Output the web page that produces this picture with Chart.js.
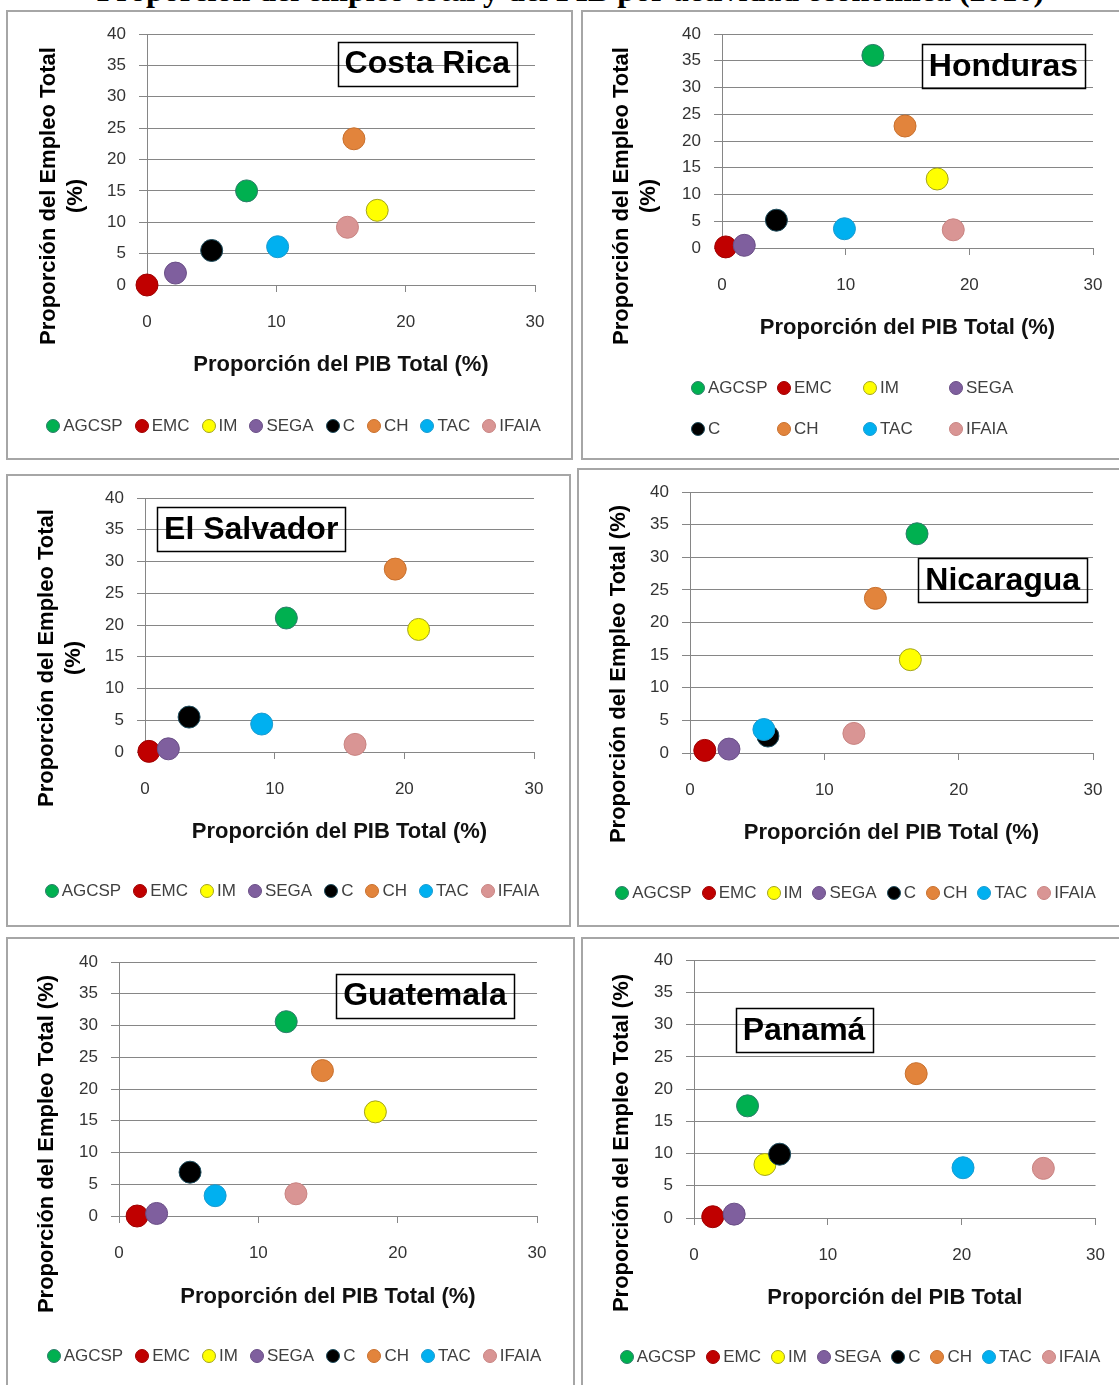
<!DOCTYPE html>
<html lang="es">
<head>
<meta charset="utf-8">
<title>Proporción del empleo total y del PIB por actividad económica (2010)</title>
<script src="https://cdn.jsdelivr.net/npm/chart.js@4.4.1/dist/chart.umd.min.js"></script>
<style>
  html, body { margin: 0; padding: 0; background: #fff; }
  body { width: 1119px; height: 1385px; position: relative; overflow: hidden; font-family: "Liberation Sans", Arial, sans-serif; }
  .title { position: absolute; left: 0; width: 1141px; top: -26px; text-align: center; font: bold 32px/32px "Liberation Serif", "Times New Roman", serif; white-space: nowrap; }
  .panel { position: absolute; box-sizing: border-box; border: 2px solid #a6a6a6; }
  canvas { position: absolute; }
  .legend { position: absolute; display: flex; justify-content: center; align-items: center; font-size: 17px; line-height: 20px; color: #404040; white-space: nowrap; }
  .legend .item { display: flex; align-items: center; }
  .legend .dot { width: 14px; height: 14px; border-radius: 50%; box-sizing: border-box; border: 1px solid; margin-right: 3px; }
</style>
</head>
<body>
<div class="title">Proporción del empleo total y del PIB por actividad económica (2010)</div>
<script>
// sectores (misma serie y color en los seis paneles)
const sectors = ['AGCSP', 'EMC', 'IM', 'SEGA', 'C', 'CH', 'TAC', 'IFAIA'];
const sectorColors = ['#00b050', '#c00000', '#ffff00', '#7f5f9e', '#000000', '#e2843c', '#00b0f0', '#d99594'];
const sectorBorders = ['#2e7d6b', '#a00000', '#a3a31f', '#6a4f86', '#1f4e5f', '#c8702e', '#1a9bd0', '#c88482'];

const xTickValues = [0, 10, 20, 30];
const yTickValues = [0, 5, 10, 15, 20, 25, 30, 35, 40];

// x = proporción del PIB total (%), y = proporción del empleo total (%)
const pibCostaRica     = [7.7, 0.0, 17.8, 2.2, 5.0, 16.0, 10.1, 15.5];
const empleoCostaRica  = [15.0, 0.0, 11.9, 1.9, 5.5, 23.3, 6.1, 9.2];
const pibHonduras      = [12.2, 0.3, 17.4, 1.8, 4.4, 14.8, 9.9, 18.7];
const empleoHonduras   = [36.0, 0.2, 12.9, 0.5, 5.2, 22.8, 3.6, 3.4];
const pibElSalvador    = [10.9, 0.3, 21.1, 1.8, 3.4, 19.3, 9.0, 16.2];
const empleoElSalvador = [21.1, 0.1, 19.3, 0.5, 5.5, 28.8, 4.4, 1.2];
const pibNicaragua     = [16.9, 1.1, 16.4, 2.9, 5.8, 13.8, 5.5, 12.2];
const empleoNicaragua  = [33.6, 0.4, 14.3, 0.6, 2.6, 23.7, 3.6, 3.0];
const pibGuatemala     = [12.0, 1.3, 18.4, 2.7, 5.1, 14.6, 6.9, 12.7];
const empleoGuatemala  = [30.6, 0.0, 16.4, 0.4, 6.9, 22.9, 3.2, 3.5];
const pibPanama        = [4.0, 1.4, 5.3, 3.0, 6.4, 16.6, 20.1, 26.1];
const empleoPanama     = [17.4, 0.2, 8.3, 0.6, 9.9, 22.4, 7.8, 7.7];

const FONT = '"Liberation Sans", Arial, sans-serif';
const X_TITLE = 'Proporción del PIB Total (%)';
const Y_TITLE_2L = ['Proporción del Empleo Total', '(%)'];
const Y_TITLE_1L = ['Proporción del Empleo Total (%)'];

// page layout of each panel (box / plot area in page px)
const panels = [
  { name: 'Costa Rica', pib: pibCostaRica, empleo: empleoCostaRica,
    box: [6, 10, 573, 460], area: [147, 34, 535, 285], xTitle: X_TITLE, xTitleY: 365,
    yTitle: Y_TITLE_2L, yTitleX: 49, yTitleY: 196, labelAt: [21.67, 35.28],
    legend: { y: 426, cx: 293.5, gap: 12 } },
  { name: 'Honduras', pib: pibHonduras, empleo: empleoHonduras,
    box: [581, 10, 1125, 460], area: [722, 34, 1093, 248], xTitle: X_TITLE, xTitleY: 328,
    yTitle: Y_TITLE_2L, yTitleX: 622, yTitleY: 196, labelAt: [22.76, 33.96],
    legend: { y: 388, left: 691, columns: 4, colWidth: 86, rowGap: 21 } },
  { name: 'El Salvador', pib: pibElSalvador, empleo: empleoElSalvador,
    box: [6, 474, 571, 927], area: [145, 498, 534, 752], xTitle: X_TITLE, xTitleY: 832,
    yTitle: Y_TITLE_2L, yTitleX: 47, yTitleY: 658, labelAt: [8.19, 35.16],
    legend: { y: 891, cx: 292, gap: 12 } },
  { name: 'Nicaragua', pib: pibNicaragua, empleo: empleoNicaragua,
    box: [577, 468, 1125, 927], area: [690, 492, 1093, 753], xTitle: X_TITLE, xTitleY: 833,
    yTitle: Y_TITLE_1L, yTitleX: 619, yTitleY: 674, labelAt: [23.28, 26.56],
    legend: { y: 893, cx: 855.5, gap: 10 } },
  { name: 'Guatemala', pib: pibGuatemala, empleo: empleoGuatemala,
    box: [6, 937, 575, 1395], area: [119, 962, 537, 1216], xTitle: X_TITLE, xTitleY: 1297,
    yTitle: Y_TITLE_1L, yTitleX: 47, yTitleY: 1144, labelAt: [21.96, 34.72],
    legend: { y: 1356, cx: 294, gap: 12 } },
  { name: 'Panamá', pib: pibPanama, empleo: empleoPanama,
    box: [581, 937, 1125, 1395], area: [694, 960, 1098, 1218], xTitle: 'Proporción del PIB Total', xTitleY: 1298,
    yTitle: Y_TITLE_1L, yTitleX: 622, yTitleY: 1143, labelAt: [8.22, 29.22],
    legend: { y: 1357, cx: 860, gap: 10 } }
];

// rotated y-axis title, centred on its own point (Excel does not centre it on the plot area)
const yAxisTitle = {
  id: 'yAxisTitle',
  afterDraw(chart, args, opts) {
    const ctx = chart.ctx;
    ctx.save();
    ctx.translate(opts.x, opts.y);
    ctx.rotate(-Math.PI / 2);
    ctx.font = 'bold 22px ' + FONT;
    ctx.fillStyle = '#000';
    ctx.textAlign = 'center';
    ctx.textBaseline = 'middle';
    opts.lines.forEach((line, i) => ctx.fillText(line, 0, i * 27));
    ctx.restore();
  }
};

// boxed country name, anchored in data coordinates
const countryLabel = {
  id: 'countryLabel',
  afterDraw(chart, args, opts) {
    const { ctx, scales } = chart;
    const cx = scales.x.getPixelForValue(opts.at[0]);
    const cy = scales.y.getPixelForValue(opts.at[1]);
    ctx.save();
    ctx.font = 'bold 32px ' + FONT;
    const w = ctx.measureText(opts.text).width + 14;
    const h = 44;
    ctx.lineWidth = 1.5;
    ctx.strokeStyle = '#000';
    ctx.strokeRect(Math.round(cx - w / 2) + 0.5, Math.round(cy - h / 2) + 0.5, Math.round(w), h);
    ctx.fillStyle = '#000';
    ctx.textAlign = 'center';
    ctx.textBaseline = 'middle';
    ctx.fillText(opts.text, cx, cy + 1);
    ctx.restore();
  }
};

function buildLegend(lg) {
  const el = document.createElement('div');
  el.className = 'legend';
  sectors.forEach((s, i) => {
    const item = document.createElement('div');
    item.className = 'item';
    const dot = document.createElement('span');
    dot.className = 'dot';
    dot.style.background = sectorColors[i];
    dot.style.borderColor = sectorBorders[i];
    const txt = document.createElement('span');
    txt.textContent = s;
    item.append(dot, txt);
    el.append(item);
  });
  el.style.top = (lg.y - 10) + 'px';
  if (lg.columns) {
    el.style.display = 'grid';
    el.style.gridTemplateColumns = `repeat(${lg.columns}, ${lg.colWidth}px)`;
    el.style.rowGap = lg.rowGap + 'px';
    el.style.left = lg.left + 'px';
  } else {
    el.style.left = (lg.cx - 300) + 'px';
    el.style.width = '600px';
    el.style.gap = lg.gap + 'px';
  }
  document.body.append(el);
}

function drawPanel(p) {
  const [bx0, by0, bx1, by1] = p.box;
  const W = bx1 - bx0, H = by1 - by0;

  const frame = document.createElement('div');
  frame.className = 'panel';
  Object.assign(frame.style, { left: bx0 + 'px', top: by0 + 'px', width: W + 'px', height: H + 'px' });
  document.body.append(frame);

  const canvas = document.createElement('canvas');
  canvas.width = W;
  canvas.height = H;
  Object.assign(canvas.style, { left: bx0 + 'px', top: by0 + 'px', width: W + 'px', height: H + 'px' });
  document.body.append(canvas);

  const L = p.area[0] - bx0, T = p.area[1] - by0, R = p.area[2] - bx0, B = p.area[3] - by0;
  const titleLH = 22 * 1.2;

  new Chart(canvas, {
    type: 'scatter',
    data: {
      datasets: sectors.map((s, i) => ({
        label: s,
        data: [{ x: p.pib[i], y: p.empleo[i] }],
        backgroundColor: sectorColors[i],
        borderColor: sectorBorders[i],
        borderWidth: 1,
        pointRadius: 11,
        pointHoverRadius: 11,
        clip: false,
        order: -i // later series on top, as in Excel
      }))
    },
    plugins: [yAxisTitle, countryLabel],
    options: {
      responsive: false,
      animation: false,
      events: [],
      layout: { padding: { left: 0, top: T, right: W - R, bottom: 0 } },
      plugins: {
        legend: { display: false },
        tooltip: { enabled: false },
        yAxisTitle: { lines: p.yTitle, x: p.yTitleX - bx0, y: p.yTitleY - by0 },
        countryLabel: { text: p.name, at: p.labelAt }
      },
      scales: {
        x: {
          type: 'linear',
          min: xTickValues[0],
          max: xTickValues[xTickValues.length - 1],
          afterBuildTicks: s => { s.ticks = xTickValues.map(v => ({ value: v })); },
          afterFit: s => { s.height = H - B; },
          ticks: { padding: 20, color: '#333', font: { family: FONT, size: 17 } },
          grid: { drawOnChartArea: false, drawTicks: true, tickLength: 7, color: '#868686' },
          border: { color: '#868686' },
          title: {
            display: true, text: p.xTitle, color: '#111',
            font: { family: FONT, size: 22, weight: 'bold', lineHeight: 1.2 },
            padding: { top: 0, bottom: H - (p.xTitleY - by0) - titleLH / 2 }
          }
        },
        y: {
          min: yTickValues[0],
          max: yTickValues[yTickValues.length - 1],
          afterBuildTicks: s => { s.ticks = yTickValues.map(v => ({ value: v })); },
          afterFit: s => { s.width = L; },
          ticks: { padding: 13, color: '#333', font: { family: FONT, size: 17 } },
          grid: { color: '#868686', tickLength: 8 },
          border: { color: '#868686' }
        }
      }
    }
  });

  buildLegend(p.legend);
}

panels.forEach(drawPanel);
</script>
</body>
</html>
